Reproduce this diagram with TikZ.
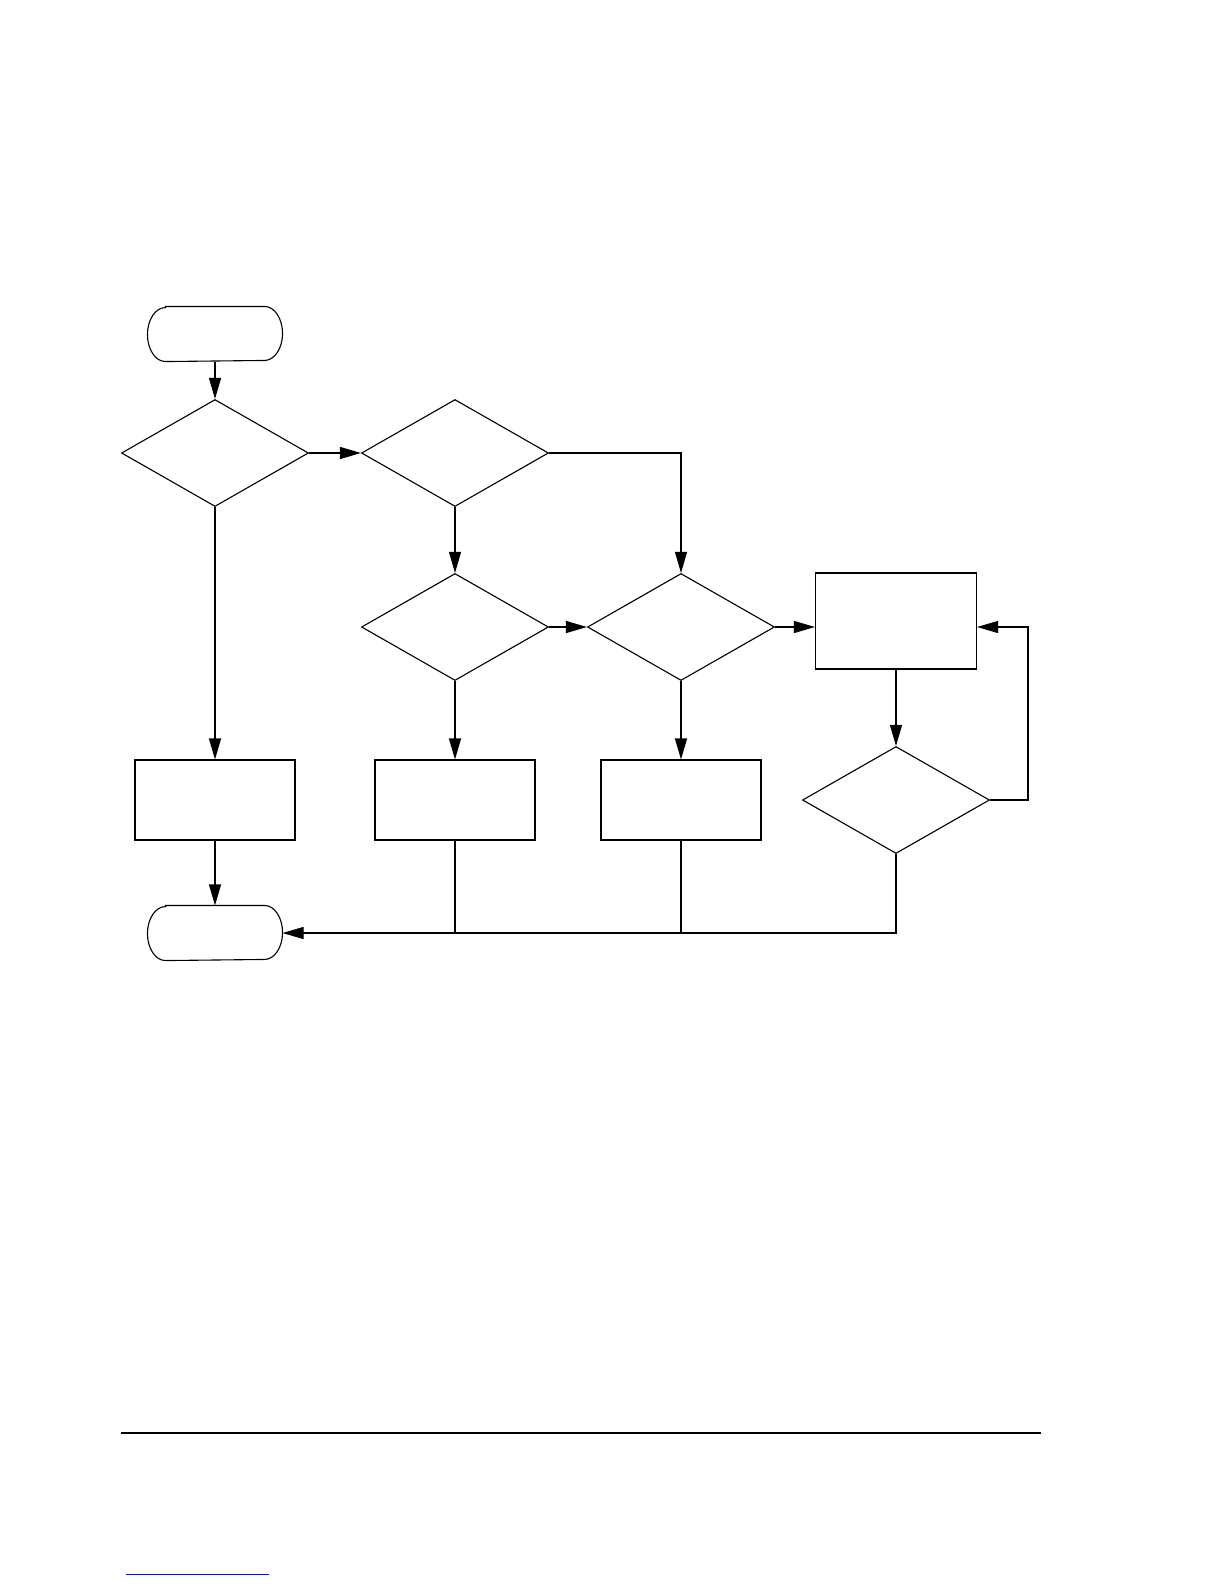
\documentclass[tikz,border=0pt]{standalone}
\usetikzlibrary{shapes.geometric,arrows.meta}
\begin{document}
\begin{tikzpicture}[x=0.5pt,y=-0.5pt,
  line width=0.55pt,
  every node/.style={inner sep=0pt},
  terminal/.style={rectangle,minimum width=67pt,minimum height=27pt},
  decision/.style={diamond,draw,minimum width=93.5pt,minimum height=53.5pt},
  process/.style={rectangle,draw,minimum width=80pt,minimum height=40pt},
  link/.style={-{Triangle[length=10.5pt,width=6pt]}}]
\useasboundingbox (0,0) rectangle (1224,1584);
\newcommand\termoutline[1]{%
  \draw ([xshift=9pt]#1.north west) -- ([xshift=-9pt]#1.north east)
    arc[start angle=90,end angle=-90,x radius=9pt,y radius=13.5pt]
    -- ([xshift=9pt]#1.south west)
    arc[start angle=270,end angle=90,x radius=9pt,y radius=13.5pt] -- cycle;}
% nodes
\node[terminal] (start) at (215,334) {};
\termoutline{start}
\node[decision] (d1) at (215,453) {};
\node[decision] (d2) at (455,453) {};
\node[decision] (d3) at (455,627) {};
\node[decision] (d4) at (681,627) {};
\node[process,minimum width=80.5pt,minimum height=48pt] (r1) at (896,621) {};
\node[decision] (d5) at (896,800) {};
\node[process] (ra) at (215,800) {};
\node[process] (rb) at (455,800) {};
\node[process] (rc) at (681,800) {};
\node[terminal] (end) at (215,933) {};
\termoutline{end}
\coordinate (loopa) at (1028,800);
\coordinate (loopb) at (1028,627);
% connectors
\draw[link] (start.south) -- (d1.north);
\draw[link] (d1.east) -- (d2.west);
\draw[link] (d2.east) -| (d4.north);
\draw[link] (d2.south) -- (d3.north);
\draw[link] (d3.east) -- (d4.west);
\draw[link] (d4.east) -- (d4.east -| r1.west);
\draw[link] (d1.south) -- (ra.north);
\draw[link] (d3.south) -- (rb.north);
\draw[link] (d4.south) -- (rc.north);
\draw[link] (r1.south) -- (d5.north);
\draw[link] (d5.east) -- (loopa) -- (loopb) -- (loopb -| r1.east);
\draw[link] (ra.south) -- (end.north);
\draw[link] (d5.south) |- (end.east);
\draw (rb.south) -- (rb.south |- end.east);
\draw (rc.south) -- (rc.south |- end.east);
% page rule and link underline
\draw[line width=0.7pt] (121,1433) -- (1041,1433);
\definecolor{linkblue}{RGB}{20,20,150}
\draw[linkblue,line width=0.5pt] (126,1574) -- (269,1574);
\end{tikzpicture}
\end{document}
